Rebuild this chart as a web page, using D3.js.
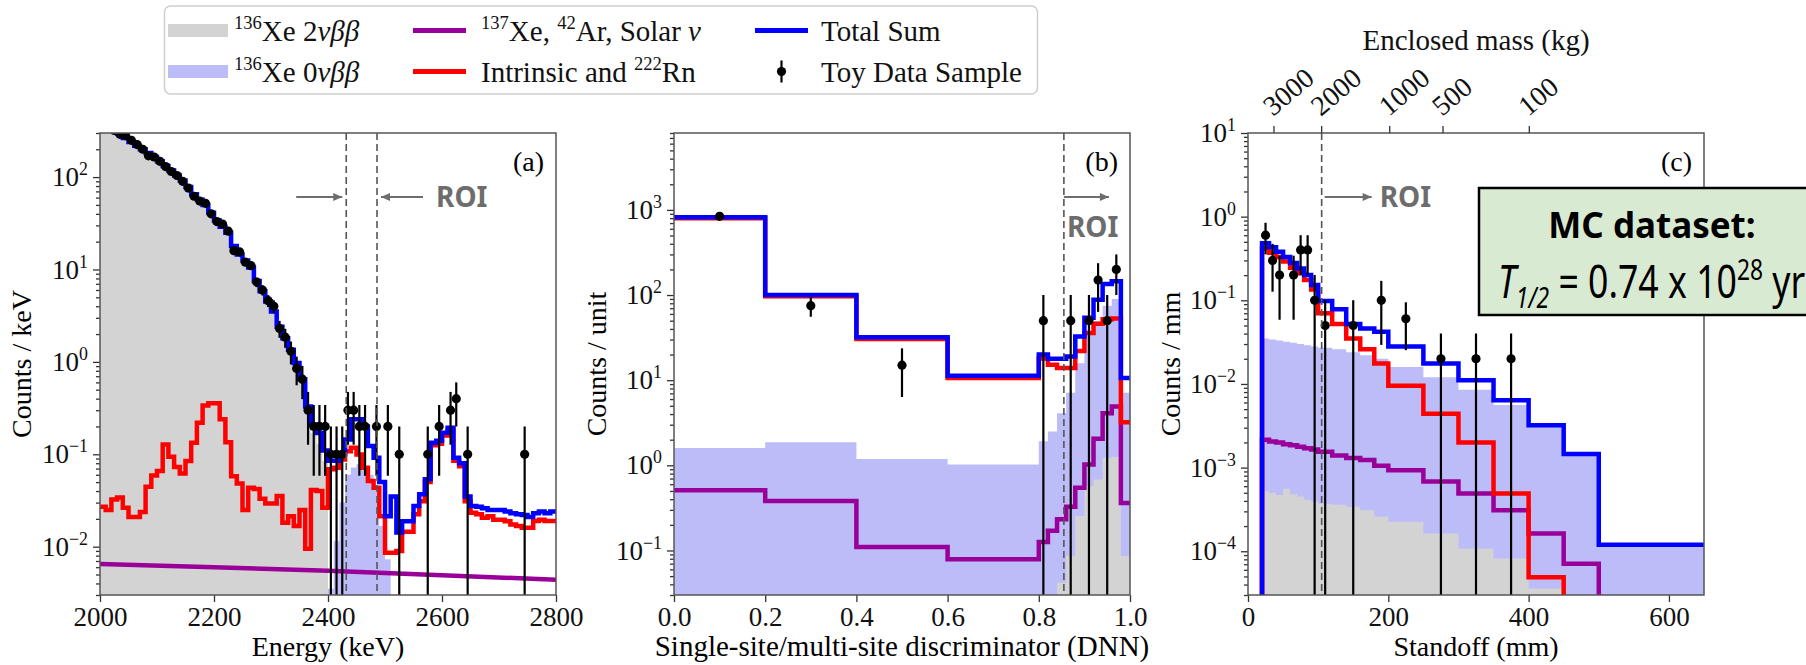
<!DOCTYPE html>
<html lang="en">
<head>
<meta charset="UTF-8">
<title>Toy dataset: energy, DNN and standoff</title>
<script src="https://cdn.jsdelivr.net/npm/d3@7/dist/d3.min.js"></script>
</head>
<body style="margin:0">
<script>
    // ---------- panel (a): energy, 10 keV bins from 2000 keV ----------
    const twoNuA = [420, 370, 330, 295, 265, 240, 218, 200, 182, 165,
        148, 132, 118, 104, 92, 78, 65, 57, 50, 41,
        34, 29, 25, 18, 14.5, 12.5, 10.5, 7.5, 5.8, 4.5,
        3.5, 2.4, 1.8, 1.35, 0.95, 0.62, 0.3, 0.17, 0.13, 0.085];
    const zeroNuA = [0.0035, 0.0115, 0.03, 0.06, 0.072, 0.078, 0.072, 0.06, 0.045, 0.0167, 0.0073]; // from 2400 keV
    const redA = [0.027, 0.025, 0.0325, 0.034, 0.0264, 0.021, 0.021, 0.0237, 0.0446, 0.059,
        0.066, 0.128, 0.094, 0.073, 0.062, 0.0845, 0.133, 0.22, 0.338, 0.356,
        0.356, 0.239, 0.135, 0.058, 0.0484, 0.0249, 0.0435, 0.042, 0.033, 0.0294,
        0.0294, 0.0353, 0.0182, 0.0214, 0.0167, 0.025, 0.0095, 0.041, 0.040, 0.0264,
        0.0687, 0.0716, 0.088, 0.108, 0.118, 0.0997, 0.0716, 0.0513, 0.0435, 0.0214,
        0.0086, 0.0086, 0.009, 0.0145, 0.0145, 0.0224, 0.031, 0.05, 0.125, 0.13,
        0.16, 0.186, 0.085, 0.074, 0.031, 0.0233, 0.0224, 0.0206, 0.0214, 0.0196,
        0.0196, 0.0189, 0.0174, 0.0167, 0.016, 0.016, 0.019, 0.0196, 0.019, 0.019];
    const totalA = [420, 370, 330, 295, 265, 240, 218, 200, 182, 165,
        148, 132, 118, 104, 92, 78, 65, 57, 50, 41,
        34, 29, 25, 18, 14.5, 12.5, 10.5, 7.5, 5.8, 4.5,
        3.5, 2.4, 1.8, 1.35, 0.97, 0.65, 0.33, 0.21, 0.17, 0.11,
        0.085, 0.085, 0.1, 0.145, 0.24, 0.24, 0.2, 0.123, 0.092, 0.05,
        0.0214, 0.035, 0.0142, 0.0188, 0.0188, 0.0275, 0.037, 0.0536, 0.133, 0.14,
        0.171, 0.194, 0.092, 0.08, 0.035, 0.0275, 0.027, 0.026, 0.025, 0.025,
        0.025, 0.024, 0.023, 0.0225, 0.022, 0.021, 0.023, 0.024, 0.023, 0.024];
    const purpleA = [[2000, 0.0065], [2200, 0.006], [2400, 0.0055], [2600, 0.0049], [2800, 0.0044]];
    // toy data: [energy, counts/keV], 10 keV bins
    const dataA = [[2005, 430], [2015, 360], [2025, 320], [2035, 290], [2045, 280], [2055, 250], [2065, 225],
        [2075, 200], [2085, 170], [2095, 165], [2105, 148], [2115, 130], [2125, 115], [2135, 104], [2145, 90],
        [2155, 76], [2165, 62], [2175, 55], [2185, 52], [2195, 40], [2205, 33], [2215, 31], [2225, 26],
        [2235, 16], [2245, 15.5], [2255, 12], [2265, 11], [2275, 7.3], [2285, 6], [2295, 4.6], [2305, 4.0],
        [2315, 2.3], [2325, 1.85], [2335, 1.3], [2345, 0.85], [2355, 0.65], [2365, 0.3], [2375, 0.2],
        [2385, 0.2], [2395, 0.2], [2405, 0.1], [2415, 0.1], [2425, 0.1], [2435, 0.3], [2445, 0.3],
        [2455, 0.2], [2465, 0.2], [2485, 0.2], [2505, 0.2], [2525, 0.1], [2575, 0.1], [2595, 0.2],
        [2615, 0.3], [2625, 0.4], [2645, 0.1], [2745, 0.1]].map(d => [d[0], d[1], 10]);
    const roiA = [2432, 2486];

    // ---------- panel (b): DNN discriminator ----------
    const dnnEdges = [0, 0.2, 0.4, 0.6, 0.8, 0.82, 0.84, 0.86, 0.88, 0.9, 0.92, 0.94, 0.96, 0.98, 1.0];
    const totalB = [820, 100, 32, 11.3, 20, 17.8, 17.8, 19, 32.7, 54, 88, 135, 145, 10.6];
    const redB = [800, 97, 30.5, 10.6, 18, 15.2, 13.9, 13.9, 22, 35.8, 46, 52, 53, 3.2];
    const purpleB = [0.51, 0.38, 0.11, 0.079, 0.126, 0.17, 0.232, 0.327, 0.545, 1.02, 2.05, 4.1, 4.9, 0.36];
    const zeroNuB = [1.6, 1.87, 1.19, 1.02, 1.92, 2.5, 4.1, 7.1, 15.8, 36, 49, 75, 90, 7.1];
    const twoNuB = [0, 0, 0, 0, 0, 0, 0.042, 0.086, 0.254, 0.57, 0.68, 1.23, 1.25, 0.086];
    const dataB = [[0.1, 840, 0.2], [0.3, 75, 0.2], [0.5, 15, 0.2], [0.81, 50, 0.02], [0.87, 50, 0.02],
        [0.91, 50, 0.02], [0.93, 150, 0.02], [0.95, 50, 0.02], [0.97, 200, 0.02]];
    const roiB = 0.855;

    // ---------- panel (c): standoff ----------
    const standoffEdges = [20, 30, 40, 50, 60, 70, 80, 90, 100, 120, 140, 160, 180, 200, 250, 300, 350, 400, 450, 500, 550, 600, 650];
    const totalC = [0.48, 0.43, 0.38, 0.33, 0.28, 0.24, 0.2, 0.152, 0.098, 0.078, 0.052, 0.046, 0.042,
        0.028, 0.0176, 0.0111, 0.0064, 0.0032, 0.00145, 0.00012, 0.00012, 0.00012];
    const redC = [0.42, 0.37, 0.33, 0.29, 0.245, 0.21, 0.175, 0.135, 0.07, 0.052, 0.035, 0.026, 0.0176,
        0.0095, 0.0044, 0.002, 0.00049, 0.000049, 0, 0, 0, 0];
    const purpleC = [0.00215, 0.00205, 0.002, 0.0019, 0.00185, 0.00178, 0.0017, 0.00165, 0.00155, 0.0014, 0.0013, 0.00123, 0.00105,
        0.00093, 0.00068, 0.00049, 0.00031, 0.000163, 0.000071, 0, 0, 0];
    const zeroNuC = [0.035, 0.034, 0.033, 0.032, 0.031, 0.030, 0.029, 0.028, 0.027, 0.026, 0.024, 0.022, 0.02,
        0.016, 0.012, 0.0085, 0.0056, 0.0031, 0.0014, 0.000115, 0.000115, 0.000115];
    const twoNuC = [0.00052, 0.0005, 0.00047, 0.00056, 0.00048, 0.00045, 0.00041, 0.00039, 0.00037, 0.00036, 0.00034, 0.00031, 0.00026,
        0.000225, 0.000163, 0.000108, 0.000082, 0.000036, 0.000025, 0, 0, 0];
    const dataC = [[25, 0.6, 10], [35, 0.3, 10], [45, 0.2, 10], [65, 0.2, 10], [75, 0.4, 10], [85, 0.4, 10],
        [95, 0.1, 10], [110, 0.05, 20], [150, 0.05, 20], [190, 0.1, 20], [225, 0.06, 50],
        [275, 0.02, 50], [325, 0.02, 50], [375, 0.02, 50]];
    const roiC = 105;
    const massTicks = [3000, 2000, 1000, 500, 100];
    const massStandoff = [37, 105, 202, 278, 401];

    // ---------- layout ----------
    const width = 1806, height = 665;
    const SERIF = '"Liberation Serif"';
    const SANS = '"Noto Sans"';
    const cBlue = '#0000ff', cRed = '#ff0000', cPurple = '#990099', cGray = '#d3d3d3', cLav = '#bcbcf8', cRoi = '#6d6d6d';

    const svg = d3.select('body').append('svg').attr('width', width).attr('height', height);
    const defs = svg.append('defs');
    defs.append('marker').attr('id', 'arrow').attr('viewBox', '0 0 10 10')
        .attr('refX', 10).attr('refY', 5).attr('markerWidth', 11).attr('markerHeight', 9)
        .attr('markerUnits', 'userSpaceOnUse').attr('orient', 'auto')
        .append('path').attr('d', 'M0,0.5L10,5L0,9.5Z').attr('fill', cRoi);

    const xA = d3.scaleLinear([2000, 2800], [100, 556]);
    const yA = d3.scaleLog([0.003, 300], [595, 133]);
    const xB = d3.scaleLinear([0, 1], [674, 1130]);
    const yB = d3.scaleLog([0.03, 8000], [595, 133]);
    const xC = d3.scaleLinear([0, 650], [1248, 1704]);
    const yC = d3.scaleLog([3e-5, 10], [595, 133]);

    function plotArea(key, x, y) {
        const [x0, x1] = x.range(), [yb, yt] = y.range();
        defs.append('clipPath').attr('id', 'clip-' + key).append('rect')
            .attr('x', x0).attr('y', yt).attr('width', x1 - x0).attr('height', yb - yt);
        return svg.append('g').attr('clip-path', `url(#clip-${key})`);
    }

    function stepPts(x, y, edges, vals, dropStart) {
        const low = y.range()[0] + 12;
        const yy = v => v > 0 ? y(v) : low;
        const pts = [];
        if (dropStart) pts.push([x(edges[0]), low]);
        vals.forEach((v, i) => { pts.push([x(edges[i]), yy(v)], [x(edges[i + 1]), yy(v)]); });
        return pts;
    }

    function stepFill(g, x, y, edges, vals, color) {
        const low = y.range()[0] + 12;
        const pts = stepPts(x, y, edges, vals, true);
        pts.push([x(edges[edges.length - 1]), low]);
        g.append('path').attr('d', d3.line()(pts) + 'Z').attr('fill', color).attr('stroke', 'none');
    }

    function stepLine(g, x, y, edges, vals, color, dropStart) {
        g.append('path').attr('d', d3.line()(stepPts(x, y, edges, vals, dropStart)))
            .attr('fill', 'none').attr('stroke', color).attr('stroke-width', 4.5)
            .attr('stroke-linejoin', 'miter');
    }

    function toyData(g, x, y, pts) {
        const low = y.range()[0] + 12;
        const err = d => Math.sqrt(d[1] * d[2]) / d[2];
        g.append('g').selectAll('line').data(pts).join('line')
            .attr('x1', d => x(d[0])).attr('x2', d => x(d[0]))
            .attr('y1', d => d[1] - err(d) > 0 ? y(d[1] - err(d)) : low)
            .attr('y2', d => y(d[1] + err(d)))
            .attr('stroke', '#000').attr('stroke-width', 2.2);
        g.append('g').selectAll('circle').data(pts).join('circle')
            .attr('cx', d => x(d[0])).attr('cy', d => y(d[1])).attr('r', 4.6).attr('fill', '#000');
    }

    function dashed(g, x, y, v) {
        g.append('line').attr('x1', x(v)).attr('x2', x(v)).attr('y1', y.range()[1]).attr('y2', y.range()[0])
            .attr('stroke', '#555').attr('stroke-width', 1.6).attr('stroke-dasharray', '7,4');
    }

    function roiArrow(x1, x2, yy) {
        svg.append('line').attr('x1', x1).attr('x2', x2).attr('y1', yy).attr('y2', yy)
            .attr('stroke', cRoi).attr('stroke-width', 2).attr('marker-end', 'url(#arrow)');
    }

    function roiText(xx, yy) {
        svg.append('text').attr('class', 'sans').attr('x', xx).attr('y', yy).text('ROI')
            .style('font-family', SANS).attr('font-weight', 'bold').attr('font-size', 28).attr('fill', cRoi);
    }

    function richText(parent, x, y, parts, size) {
        const t = parent.append('text').attr('x', x).attr('y', y).attr('font-size', size);
        let cur = 0;
        parts.forEach(p => {
            const target = p.sup ? -size * 0.4 : p.sub ? size * 0.22 : 0;
            t.append('tspan').attr('dy', target - cur)
                .attr('font-size', p.sup || p.sub ? size * 0.64 : size)
                .attr('font-style', p.it ? 'italic' : null)
                .text(p.t);
            cur = target;
        });
        return t;
    }

    function axes(x, y, xTicks, xFmt, xLabel, xLabelSize, yLabel, yLabelX, tag) {
        const [x0, x1] = x.range(), [yb, yt] = y.range();
        const gx = svg.append('g').attr('transform', `translate(0,${yb})`)
            .call(d3.axisBottom(x).tickValues(xTicks).tickFormat(xFmt).tickSize(7).tickPadding(5));
        const [d0, d1] = y.domain();
        const majors = [], minors = [];
        for (let k = Math.floor(Math.log10(d0)); k <= Math.ceil(Math.log10(d1)); k++) {
            for (let m = 1; m <= 9; m++) {
                const v = m * Math.pow(10, k);
                if (v < d0 * 0.999 || v > d1 * 1.001) continue;
                (m === 1 ? majors : minors).push(v);
            }
        }
        const gy = svg.append('g').attr('transform', `translate(${x0},0)`)
            .call(d3.axisLeft(y).tickValues(majors).tickSize(7).tickPadding(5).tickFormat(() => '10'));
        const gm = svg.append('g').attr('transform', `translate(${x0},0)`)
            .call(d3.axisLeft(y).tickValues(minors).tickSize(4).tickFormat(''));
        gy.selectAll('.tick text').each(function (v) {
            const e = Math.round(Math.log10(v));
            d3.select(this).append('tspan').attr('dy', '-0.62em').attr('font-size', '0.66em')
                .text(e < 0 ? '\u2212' + (-e) : String(e));
        });
        [gx, gy, gm].forEach(g => {
            g.attr('font-family', null).attr('font-size', 27);
            g.select('.domain').remove();
            g.selectAll('.tick line').attr('stroke', '#333').attr('stroke-width', 1.3);
            g.selectAll('.tick text').attr('fill', '#111');
        });
        svg.append('rect').attr('x', x0).attr('y', yt).attr('width', x1 - x0).attr('height', yb - yt)
            .attr('fill', 'none').attr('stroke', '#555').attr('stroke-width', 1.5);
        svg.append('text').attr('x', (x0 + x1) / 2).attr('y', 656).attr('text-anchor', 'middle')
            .attr('font-size', xLabelSize).text(xLabel);
        svg.append('text').attr('transform', `translate(${yLabelX},${(yb + yt) / 2}) rotate(-90)`)
            .attr('text-anchor', 'middle').attr('font-size', 28).text(yLabel);
        svg.append('text').attr('x', x1 - 12).attr('y', 171).attr('text-anchor', 'end')
            .attr('font-size', 28).text(tag);
    }

    // ---------- panel (a) ----------
    const gA = plotArea('a', xA, yA);
    const edgesA = d3.range(2000, 2801, 10);
    stepFill(gA, xA, yA, d3.range(2400, 2511, 10), zeroNuA, cLav);
    stepFill(gA, xA, yA, edgesA.slice(0, twoNuA.length + 1), twoNuA, cGray);
    gA.append('path').attr('d', d3.line().x(d => xA(d[0])).y(d => yA(d[1]))(purpleA))
        .attr('fill', 'none').attr('stroke', cPurple).attr('stroke-width', 4.5);
    stepLine(gA, xA, yA, edgesA, redA, cRed, false);
    stepLine(gA, xA, yA, edgesA, totalA, cBlue, false);
    toyData(gA, xA, yA, dataA);
    roiA.forEach(v => dashed(gA, xA, yA, v));
    axes(xA, yA, [2000, 2200, 2400, 2600, 2800], d3.format('d'), 'Energy (keV)', 28, 'Counts / keV', 31, '(a)');
    roiArrow(xA(roiA[0]) - 50, xA(roiA[0]) - 4, 197);
    roiArrow(xA(roiA[1]) + 46, xA(roiA[1]) + 4, 197);
    roiText(xA(roiA[1]) + 59, 207);

    // ---------- panel (b) ----------
    const gB = plotArea('b', xB, yB);
    stepFill(gB, xB, yB, dnnEdges, zeroNuB, cLav);
    stepFill(gB, xB, yB, dnnEdges, twoNuB, cGray);
    stepLine(gB, xB, yB, dnnEdges, purpleB, cPurple, false);
    stepLine(gB, xB, yB, dnnEdges, redB, cRed, false);
    stepLine(gB, xB, yB, dnnEdges, totalB, cBlue, false);
    toyData(gB, xB, yB, dataB);
    dashed(gB, xB, yB, roiB);
    axes(xB, yB, [0, 0.2, 0.4, 0.6, 0.8, 1.0], d3.format('.1f'), 'Single-site/multi-site discriminator (DNN)', 29,
        'Counts / unit', 606, '(b)');
    roiArrow(xB(roiB), xB(roiB) + 45, 197);
    roiText(xB(roiB) + 3, 237);

    // ---------- panel (c) ----------
    const gC = plotArea('c', xC, yC);
    stepFill(gC, xC, yC, standoffEdges, zeroNuC, cLav);
    stepFill(gC, xC, yC, standoffEdges, twoNuC, cGray);
    stepLine(gC, xC, yC, standoffEdges, purpleC, cPurple, true);
    stepLine(gC, xC, yC, standoffEdges, redC, cRed, true);
    stepLine(gC, xC, yC, standoffEdges, totalC, cBlue, true);
    toyData(gC, xC, yC, dataC);
    dashed(gC, xC, yC, roiC);
    axes(xC, yC, [0, 200, 400, 600], d3.format('d'), 'Standoff (mm)', 28, 'Counts / mm', 1180, '(c)');
    roiArrow(xC(roiC) + 3, xC(roiC) + 50, 197);
    roiText(xC(roiC) + 58, 207);

    // top axis: enclosed mass
    const topY = yC.range()[1];
    const mass = svg.append('g');
    mass.selectAll('line').data(massTicks).join('line')
        .attr('x1', (d, i) => xC(massStandoff[i])).attr('x2', (d, i) => xC(massStandoff[i]))
        .attr('y1', topY).attr('y2', topY - 7).attr('stroke', '#333').attr('stroke-width', 1.3);
    mass.selectAll('text').data(massTicks).join('text')
        .attr('transform', (d, i) => `translate(${xC(massStandoff[i]) - 1},${topY - 16}) rotate(-40)`)
        .attr('font-size', 28).attr('fill', '#111').text(d => d);
    svg.append('text').attr('x', (xC.range()[0] + xC.range()[1]) / 2).attr('y', 50)
        .attr('text-anchor', 'middle').attr('font-size', 29).attr('fill', '#111').text('Enclosed mass (kg)');

    // ---------- legend ----------
    const legend = svg.append('g');
    legend.append('rect').attr('x', 164.5).attr('y', 6).attr('width', 873).attr('height', 88).attr('rx', 6)
        .attr('fill', '#fff').attr('stroke', '#cfcfcf').attr('stroke-width', 1.5);
    const legendItems = [
        {kind: 'patch', color: cGray, col: 0, row: 0, parts: [{t: '136', sup: 1}, {t: 'Xe 2'}, {t: '\u03bd\u03b2\u03b2', it: 1}]},
        {kind: 'patch', color: cLav, col: 0, row: 1, parts: [{t: '136', sup: 1}, {t: 'Xe 0'}, {t: '\u03bd\u03b2\u03b2', it: 1}]},
        {kind: 'line', color: cPurple, col: 1, row: 0, parts: [{t: '137', sup: 1}, {t: 'Xe, '}, {t: '42', sup: 1}, {t: 'Ar, Solar '}, {t: '\u03bd', it: 1}]},
        {kind: 'line', color: cRed, col: 1, row: 1, parts: [{t: 'Intrinsic and '}, {t: '222', sup: 1}, {t: 'Rn'}]},
        {kind: 'line', color: cBlue, col: 2, row: 0, parts: [{t: 'Total Sum'}]},
        {kind: 'data', color: '#000', col: 2, row: 1, parts: [{t: 'Toy Data Sample'}]}
    ];
    const colX = [168, 413, 755], colText = [234, 481, 821], rowY = [30.5, 71.5];
    legendItems.forEach(it => {
        const x0 = colX[it.col], yy = rowY[it.row];
        if (it.kind === 'patch') {
            legend.append('rect').attr('x', x0).attr('y', yy - 6.5).attr('width', 60).attr('height', 13).attr('fill', it.color);
        } else if (it.kind === 'line') {
            legend.append('line').attr('x1', x0).attr('x2', x0 + 53).attr('y1', yy).attr('y2', yy)
                .attr('stroke', it.color).attr('stroke-width', 5);
        } else {
            legend.append('line').attr('x1', x0 + 26.5).attr('x2', x0 + 26.5).attr('y1', yy - 11).attr('y2', yy + 11)
                .attr('stroke', '#000').attr('stroke-width', 2.2);
            legend.append('circle').attr('cx', x0 + 26.5).attr('cy', yy).attr('r', 4.6).attr('fill', '#000');
        }
        richText(legend, colText[it.col], yy + 10, it.parts, 29).attr('fill', '#111');
    });

    // ---------- MC dataset box ----------
    const box = svg.append('g');
    box.append('rect').attr('x', 1479).attr('y', 188).attr('width', 400).attr('height', 127)
        .attr('fill', '#d9ead3').attr('stroke', '#000').attr('stroke-width', 2.5);
    box.append('text').attr('class', 'sans').attr('x', 1652).attr('y', 238).attr('text-anchor', 'middle')
        .style('font-family', SANS).attr('font-weight', 'bold').attr('font-size', 35).attr('fill', '#000')
        .text('MC dataset:');
    const half = box.append('g').attr('transform', 'translate(1498,298) scale(0.775,1)');
    richText(half, 0, 0, [{t: 'T', it: 1}, {t: '1/2', sub: 1, it: 1}, {t: ' = 0.74 x 10'}, {t: '28', sup: 1}, {t: ' yr'}], 46)
        .attr('class', 'sans').style('font-family', SANS).attr('fill', '#000');

    // every other text in the serif face
    svg.selectAll('text:not(.sans)').style('font-family', SERIF);
</script>
</body>
</html>
